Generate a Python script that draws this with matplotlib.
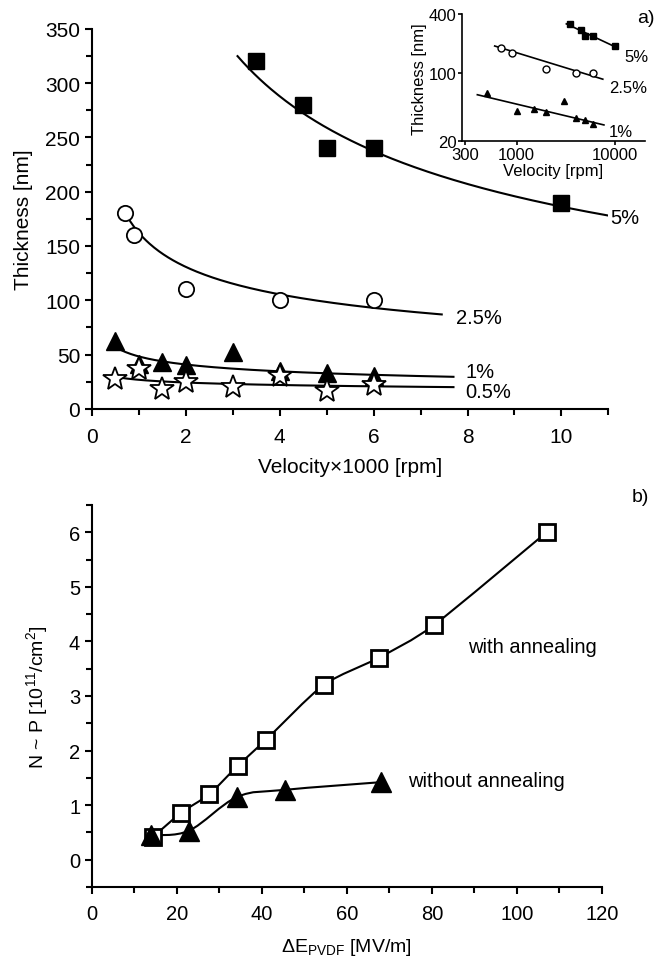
import numpy as np
import matplotlib
matplotlib.use('Agg')
import matplotlib.pyplot as plt
from matplotlib.path import Path
from matplotlib.patches import PathPatch

plt.rcParams['font.family'] = ['Liberation Sans', 'DejaVu Sans']
plt.rcParams['mathtext.fontset'] = 'custom'
plt.rcParams['mathtext.rm'] = 'Liberation Sans'
plt.rcParams['mathtext.it'] = 'Liberation Sans'

### Panel a) data: thickness vs spin velocity ###
vel_5 = [3.5, 4.5, 5, 6, 10]
thk_5 = [320, 280, 240, 240, 190]
vel_25 = [0.7, 0.9, 2, 4, 6]
thk_25 = [180, 160, 110, 100, 100]
vel_1 = [0.5, 1, 1.5, 2, 3, 4, 5, 6]
thk_1 = [62, 41, 43, 40, 52, 35, 33, 30]
vel_05 = [0.5, 1, 1.5, 2, 3, 4, 5, 6]
thk_05 = [27, 37, 18, 25, 20, 30, 16, 22]

# power-law fits  t = A * v^B  (v in 1000 rpm)
fit_A = [556, 162, 48.2, 26.7]
fit_B = [-0.475, -0.31, -0.241, -0.142]
fit_from = [3.1, 0.75, 0.5, 0.5]
fit_to = [11.0, 7.45, 7.7, 7.7]

### Panel b) data ###
de_ann = [14.4, 21, 27.6, 34.3, 41, 54.5, 67.5, 80.5, 107]
np_ann = [0.42, 0.86, 1.2, 1.72, 2.2, 3.2, 3.7, 4.3, 6.0]
de_noann = [13.8, 22.8, 34.2, 45.5, 68]
np_noann = [0.45, 0.53, 1.15, 1.28, 1.42]


def fit_curve(i, x0=None, x1=None):
    xs = np.linspace(fit_from[i] if x0 is None else x0,
                     fit_to[i] if x1 is None else x1, 200)
    return xs, fit_A[i] * xs ** fit_B[i]


def smooth_path(x, y, k=8.0):
    # Catmull-Rom style through the points, drawn as cubic bezier segments
    pts = np.column_stack([x, y])
    verts = [pts[0]]
    codes = [Path.MOVETO]
    for i in range(len(pts) - 1):
        p0 = pts[i - 1] if i > 0 else pts[i]
        p1 = pts[i]
        p2 = pts[i + 1]
        p3 = pts[i + 2] if i + 2 < len(pts) else pts[i + 1]
        verts += [p1 + (p2 - p0) / k, p2 - (p3 - p1) / k, p2]
        codes += [Path.CURVE4] * 3
    return Path(verts, codes)


def style_axes(ax, lw=1.5):
    for s in ['top', 'right']:
        ax.spines[s].set_visible(False)
    for s in ['left', 'bottom']:
        ax.spines[s].set_linewidth(lw)


fig = plt.figure(figsize=(6.62, 9.62), dpi=100)

# ---------------- panel a ----------------
ax1 = fig.add_axes([0.139, 0.574, 0.780, 0.395])
style_axes(ax1)
mk = dict(linestyle='none', color='black', zorder=3)
ax1.plot(vel_5, thk_5, marker='s', markersize=11, **mk)
ax1.plot(vel_25, thk_25, marker='o', markersize=11, markerfacecolor='white',
         markeredgewidth=1.3, **mk)
ax1.plot(vel_1, thk_1, marker='^', markersize=13, **mk)
ax1.plot(vel_05, thk_05, marker='*', markersize=18, markerfacecolor='white',
         markeredgewidth=1.3, **mk)

for i in range(4):
    xs, ys = fit_curve(i)
    ax1.plot(xs, ys, color='black', lw=1.5, zorder=2)

ax1.text(11.05, 176, '5%', fontsize=14.5, va='center')
ax1.text(7.75, 84, '2.5%', fontsize=14.5, va='center')
ax1.text(7.95, 34, '1%', fontsize=14.5, va='center')
ax1.text(7.95, 16, '0.5%', fontsize=14.5, va='center')

ax1.set_xlim(0, 11)
ax1.set_ylim(0, 350)
ax1.set_xticks([0, 2, 4, 6, 8, 10])
ax1.set_xticks(np.arange(0, 12, 1), minor=True)
ax1.set_yticks(np.arange(0, 351, 50))
ax1.set_yticks(np.arange(0, 351, 25), minor=True)
ax1.tick_params(which='both', direction='out', width=1.5, labelsize=15)
ax1.tick_params(which='major', length=5)
ax1.tick_params(which='minor', length=4)
ax1.tick_params(axis='x', pad=8)
ax1.set_xlabel('Velocity×1000 [rpm]', fontsize=15, labelpad=8)
ax1.set_ylabel('Thickness [nm]', fontsize=15, labelpad=9)

# ---------------- inset ----------------
ax_in = fig.add_axes([0.698, 0.852, 0.276, 0.132])
style_axes(ax_in, 1.2)
ax_in.set_xscale('log')
ax_in.set_yscale('log')
mks = dict(linestyle='none', color='black', zorder=3)
ax_in.plot(np.array(vel_5) * 1000, thk_5, marker='s', markersize=4.5, **mks)
ax_in.plot(np.array(vel_25) * 1000, thk_25, marker='o', markersize=5,
           markerfacecolor='white', markeredgewidth=1, **mks)
ax_in.plot(np.array(vel_1) * 1000, thk_1, marker='^', markersize=5, **mks)
for i, x0, x1 in [(0, 3.2, 10.5), (1, 0.6, 7.5), (2, 0.4, 7.7)]:
    xs, ys = fit_curve(i, x0, x1)
    ax_in.plot(xs * 1000, ys, color='black', lw=1.2, zorder=2)
ax_in.text(12500, 148, '5%', fontsize=12, va='center')
ax_in.text(8700, 72, '2.5%', fontsize=12, va='center')
ax_in.text(8700, 25, '1%', fontsize=12, va='center')
ax_in.set_xlim(280, 20000)
ax_in.set_ylim(20, 400)
ax_in.set_xticks([300, 1000, 10000])
ax_in.set_xticklabels(['300', '1000', '10000'])
ax_in.set_yticks([20, 100, 400])
ax_in.set_yticklabels(['20', '100', '400'])
ax_in.minorticks_off()
ax_in.tick_params(direction='out', length=3, width=1.2, labelsize=12, pad=1)
ax_in.set_xlabel('Velocity [rpm]', fontsize=12, labelpad=1)
ax_in.set_ylabel('Thickness [nm]', fontsize=12, labelpad=1)

fig.text(0.975, 0.981, 'a)', fontsize=14, ha='center', va='center')

# ---------------- panel b ----------------
ax2 = fig.add_axes([0.139, 0.077, 0.770, 0.397])
style_axes(ax2)
ax2.add_patch(PathPatch(smooth_path(de_ann, np_ann), fill=False, lw=1.5,
                        edgecolor='black', zorder=2))
ax2.add_patch(PathPatch(smooth_path(de_noann, np_noann, 6.0), fill=False, lw=1.5,
                        edgecolor='black', zorder=2))
ax2.plot(de_ann, np_ann, marker='s', markersize=12, markerfacecolor='white',
         markeredgewidth=2, **mk)
ax2.plot(de_noann, np_noann, marker='^', markersize=14, **mk)
ax2.text(88.5, 3.9, 'with annealing', fontsize=14.5, va='center')
ax2.text(74.5, 1.45, 'without annealing', fontsize=14.5, va='center')

ax2.set_xlim(0, 120)
ax2.set_ylim(-0.5, 6.5)
ax2.set_xticks(np.arange(0, 121, 20))
ax2.set_xticks(np.arange(0, 121, 10), minor=True)
ax2.set_yticks(np.arange(0, 7, 1))
ax2.set_yticks(np.arange(-0.5, 6.6, 0.5), minor=True)
ax2.tick_params(which='both', direction='out', width=1.5, labelsize=14.5)
ax2.tick_params(which='major', length=5)
ax2.tick_params(which='minor', length=4)
ax2.tick_params(axis='x', pad=7)
ax2.set_xlabel('ΔE$_{\\mathrm{PVDF}}$ [MV/m]', fontsize=14, labelpad=10)
ax2.set_ylabel('N ~ P [10$^{11}$/cm$^{2}$]', fontsize=14, labelpad=14)

fig.text(0.967, 0.483, 'b)', fontsize=14, ha='center', va='center')

plt.savefig('out.png', dpi=100)
